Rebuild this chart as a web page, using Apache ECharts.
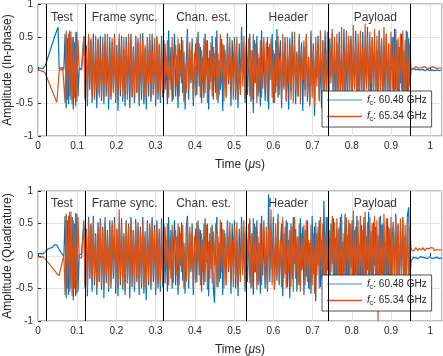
<!DOCTYPE html>
<html>
<head>
<meta charset="utf-8">
<script src="https://cdn.jsdelivr.net/npm/echarts@6/dist/echarts.min.js"></script>
<style>
html, body { margin: 0; padding: 0; background: #fff; }
#chart { width: 443px; height: 356px; }
</style>
</head>
<body>
<div id="chart"></div>
<script>
// sample spacing of the captured frame (us)
var dt = 0.003;

// in-phase, fc = 60.48 GHz
var iBlue = [
  0.02,-0.01,0.03,0.00,0.02,0.01,
  0.06,0.11,0.17,0.22,0.28,0.33,0.39,0.44,0.50,0.55,0.60,0.65,
  0.02,0.03,0.01,0.04,0.02,
  0.55,-0.58,0.48,-0.52,0.6,-0.45,0.5,-0.6,0.42,-0.55,0.58,-0.4,
  0.02,0.05,0.01,0.03,
  0.52,-0.45,0.38,-0.55,0.5,-0.3,0.45,-0.5,0.55,-0.42,0.3,-0.58,0.48,-0.35,0.52,-0.47,
  0.4,-0.52,0.55,-0.4,0.35,-0.6,0.5,-0.45,0.42,-0.3,0.55,-0.5,0.38,-0.62,0.47,-0.4,
  0.52,-0.48,0.3,-0.55,0.5,-0.38,0.45,-0.58,0.55,-0.42,0.36,-0.5,0.52,-0.35,0.48,-0.55,
  0.4,-0.45,0.56,-0.52,0.33,-0.6,0.5,-0.4,0.45,-0.48,0.55,-0.36,0.42,-0.55,0.5,-0.45,
  0.38,-0.5,0.52,-0.42,
  0.45,-0.3,0.12,-0.52,0.6,-0.15,0.35,-0.48,0.05,0.55,-0.4,0.22,-0.58,0.4,-0.1,
  0.5,-0.35,0.28,-0.6,0.15,0.62,-0.45,0.3,-0.2,0.48,-0.55,0.1,0.4,-0.38,0.58,
  -0.25,0.35,-0.5,0.2,-0.42,0.55,-0.08,0.45,-0.6,0.3,-0.18,0.52,-0.45,0.25,-0.35,
  0.6,-0.5,0.15,-0.3,0.47,-0.62,0.38,0.05,-0.4,0.56,-0.22,0.33,-0.55,0.45,-0.12,
  0.5,-0.45,0.2,-0.58,0.4,-0.3,0.65,-0.15,0.28,-0.5,0.42,-0.38,0.1,0.55,-0.48,
  0.3,-0.65,0.45,-0.2,0.52,-0.4,0.18,-0.55,0.6,-0.28,0.35,-0.47,0.08,0.5,-0.6,
  0.4,-0.15,0.55,-0.5,0.25,-0.35,0.62,-0.42,0.12,0.45,-0.58,0.3,-0.25,0.5,-0.45,
  0.2,-0.6,0.48,-0.32,0.58,-0.1,0.38,-0.52,0.28,-0.4,0.55,-0.2,0.42,-0.62,0.35,
  -0.3,0.5,-0.48,0.15,-0.55,0.6,-0.25,0.4,-0.7,0.3,-0.12,0.52,-0.45,0.22,-0.58,
  0.45,-0.38,0.6,-0.2,0.33,-0.55,0.48,-0.1,0.55,-0.45,0.25,-0.62,0.4,-0.3,0.58,
  -0.5,0.2,-0.35,0.62,-0.42,0.3,-0.58,0.47,-0.15,0.52,-0.48,0.38,-0.25,0.6,-0.4,
  0.15,-0.55,0.45,-0.3,0.58,-0.5,0.28,-0.2,0.65,-0.45,0.35,-0.6,0.5,-0.12,0.42,
  -0.52,0.3,-0.4,0.6,-0.25,0.48,-0.55,0.2,-0.35,0.55,-0.48,0.4,-0.6,0.25,0.5,
  -0.42,0.62,-0.3,0.45,-0.58,0.35,-0.2,0.55,-0.5,0.3,-0.45,0.6,-0.38,0.48,-0.25,
  0.01,-0.01,0.02,0.00,0.01,-0.02,0.01,0.02,0.00,-0.01,0.01,0.02,-0.01,0.00,
  0.01,0.02,-0.01,0.01,0.00,0.02,-0.01,0.01,0.00,0.01,-0.01,0.02,0.00
];

// in-phase, fc = 65.34 GHz
var iOrange = [
  0.00,0.02,-0.01,0.01,-0.02,0.00,
  -0.04,-0.09,-0.13,-0.18,-0.22,-0.27,-0.31,-0.36,-0.40,-0.45,-0.49,-0.52,
  -0.02,0.03,0.01,0.04,0.02,
  -0.5,0.6,-0.45,0.55,-0.4,0.58,-0.52,0.5,-0.42,0.57,-0.48,0.45,
  0.03,0.06,0.02,0.04,
  0.5,-0.42,0.3,-0.45,0.55,-0.2,0.48,-0.4,0.35,-0.45,0.52,-0.3,0.45,-0.42,0.2,-0.38,
  0.5,-0.45,0.4,-0.25,0.55,-0.42,0.3,-0.4,0.48,-0.35,0.52,-0.45,0.25,-0.4,0.55,-0.3,
  0.45,-0.42,0.5,-0.38,0.35,-0.45,0.55,-0.25,0.48,-0.4,0.3,-0.45,0.52,-0.35,0.42,-0.42,
  0.55,-0.3,0.45,-0.45,0.38,-0.4,0.5,-0.2,0.55,-0.42,0.3,-0.38,0.48,-0.45,0.52,-0.35,
  0.4,-0.42,0.5,-0.3,
  -0.35,0.4,-0.1,0.45,-0.42,0.2,-0.3,0.5,-0.45,0.15,0.38,-0.25,0.48,-0.4,0.3,
  -0.2,0.45,-0.48,0.1,-0.35,0.52,-0.3,0.42,-0.15,0.35,-0.45,0.25,-0.4,0.5,-0.05,
  0.4,-0.42,0.3,-0.2,0.48,-0.35,0.45,-0.5,0.18,-0.3,0.42,-0.4,0.35,-0.12,0.5,
  -0.45,0.25,-0.38,0.55,-0.2,0.4,-0.48,0.3,-0.42,0.45,-0.15,0.5,-0.35,0.2,-0.45,
  0.42,-0.3,0.5,-0.45,0.1,-0.38,0.45,-0.25,0.52,-0.42,0.35,-0.1,0.48,-0.4,0.3,
  -0.45,0.55,-0.2,0.4,-0.5,0.25,-0.35,0.45,-0.42,0.18,0.5,-0.3,0.42,-0.48,0.35,
  -0.15,0.48,-0.42,0.3,-0.5,0.45,-0.25,0.52,-0.38,0.2,-0.45,0.55,-0.3,0.4,-0.48,
  0.5,-0.2,0.35,-0.45,0.42,-0.5,0.58,-0.3,0.25,-0.4,0.48,-0.52,0.3,-0.15,0.45,
  -0.4,0.55,-0.35,0.2,-0.5,0.45,-0.42,0.3,-0.55,0.5,-0.25,0.4,-0.48,0.6,-0.3,
  0.45,-0.5,0.25,-0.4,0.58,-0.45,0.35,-0.2,0.62,-0.42,0.5,-0.3,0.55,-0.48,0.4,
  -0.35,0.65,-0.45,0.3,-0.5,0.6,-0.25,0.52,-0.4,0.45,-0.48,0.68,-0.3,0.42,-0.45,
  0.55,-0.38,0.6,-0.5,0.35,-0.42,0.7,-0.3,0.5,-0.45,0.58,-0.2,0.45,-0.5,0.62,
  -0.4,0.52,-0.48,0.6,-0.35,0.45,-0.5,0.65,-0.28,0.55,-0.45,0.4,-0.52,0.58,-0.3,
  0.5,-0.45,0.62,-0.38,0.48,-0.5,0.55,-0.3,0.6,-0.42,0.45,-0.5,0.58,-0.35,0.4,
  0.03,0.04,0.02,0.03,0.05,0.02,0.03,0.04,0.03,0.02,0.04,0.03,0.05,0.03,
  0.02,0.04,0.03,0.03,0.05,0.02,0.04,0.03,0.02,0.04,0.03,0.05,0.03
];

// quadrature, fc = 60.48 GHz
var qBlue = [
  0.03,0.01,0.04,0.02,0.03,0.05,
  0.06,0.08,0.1,0.09,0.12,0.14,0.13,0.16,0.17,0.15,0.17,0.14,
  0.1,0.07,0.04,0.02,0.0,
  0.62,-0.65,0.55,-0.6,0.68,-0.5,0.6,-0.68,0.5,-0.62,0.65,-0.55,
  0.02,-0.01,0.03,0.01,
  0.55,-0.5,0.42,-0.62,0.6,-0.35,0.5,-0.55,0.62,-0.45,0.35,-0.6,0.52,-0.4,0.58,-0.52,
  0.45,-0.65,0.6,-0.42,0.4,-0.55,0.55,-0.5,0.48,-0.35,0.6,-0.58,0.42,-0.62,0.5,-0.45,
  0.58,-0.52,0.35,-0.6,0.55,-0.42,0.5,-0.65,0.6,-0.48,0.4,-0.55,0.57,-0.4,0.52,-0.6,
  0.45,-0.5,0.6,-0.58,0.38,-0.68,0.55,-0.45,0.5,-0.52,0.6,-0.4,0.48,-0.6,0.55,-0.5,
  0.42,-0.55,0.58,-0.48,
  0.5,-0.42,0.25,-0.55,0.6,-0.2,0.4,-0.5,0.1,0.55,-0.45,0.3,-0.6,0.45,-0.15,
  0.52,-0.38,0.2,-0.58,0.45,0.62,-0.5,0.35,-0.25,0.5,-0.6,0.15,0.42,-0.4,0.55,
  -0.3,0.4,-0.55,0.25,-0.45,0.58,-0.1,0.5,-0.62,0.35,-0.2,0.48,-0.5,-0.72,0.3,
  0.6,-0.48,0.2,-0.35,0.52,-0.6,0.4,0.08,-0.45,0.55,-0.25,0.38,-0.58,0.5,-0.15,
  0.55,-0.5,0.25,-0.62,0.42,-0.3,0.6,-0.2,0.35,-0.55,0.45,-0.4,0.15,0.58,-0.5,
  0.35,-0.6,0.5,-0.25,0.55,-0.45,0.2,-0.58,0.62,-0.3,0.4,-0.5,0.1,-0.55,0.95,
  -0.4,0.45,-0.2,0.6,-0.52,0.3,-0.38,0.65,-0.45,0.15,0.5,-0.62,0.35,-0.28,0.55,
  -0.48,0.25,-0.65,0.5,-0.35,0.6,-0.12,0.42,-0.55,0.3,-0.45,0.58,-0.22,0.45,-0.6,
  0.4,-0.32,0.55,-0.5,0.2,-0.58,0.62,-0.28,0.45,-0.7,0.35,-0.15,0.55,-0.48,0.25,
  -0.6,0.85,-0.4,0.6,-0.22,0.38,-0.58,0.5,-0.12,0.58,-0.5,0.28,-0.62,0.42,-0.35,
  0.6,-0.52,0.22,-0.38,0.65,-0.45,0.32,-0.6,0.5,-0.18,0.55,-0.5,0.4,-0.28,0.62,
  -0.45,0.18,-0.58,0.48,-0.32,0.6,-0.52,0.3,-0.22,0.68,-0.48,0.38,-0.62,0.52,-0.15,
  0.45,-0.55,0.32,-0.42,0.62,-0.28,0.5,-0.58,0.22,-0.38,0.58,-0.5,0.42,-0.62,0.28,
  0.52,-0.45,0.65,-0.32,0.48,-0.6,0.38,-0.22,0.58,-0.52,0.3,-0.48,0.62,0.75,-0.4,
  -0.08,-0.06,-0.02,-0.05,-0.03,-0.02,-0.04,-0.03,-0.01,-0.04,-0.02,-0.05,-0.03,-0.02,
  -0.04,-0.03,-0.01,-0.03,-0.04,-0.02,-0.03,-0.05,-0.02,-0.03,-0.04,-0.02,-0.03
];

// quadrature, fc = 65.34 GHz
var qOrange = [
  -0.01,0.01,-0.02,0.00,-0.01,-0.02,
  -0.04,-0.06,-0.09,-0.11,-0.13,-0.16,-0.18,-0.2,-0.22,-0.25,-0.27,-0.29,
  -0.3,-0.22,-0.14,-0.06,0.0,
  -0.6,0.65,-0.5,0.62,-0.55,0.68,-0.62,0.55,-0.5,0.66,-0.58,0.6,
  -0.02,0.01,-0.03,0.0,
  0.5,-0.45,0.35,-0.5,0.55,-0.3,0.48,-0.42,0.52,-0.35,0.3,-0.5,0.45,-0.4,0.55,-0.45,
  0.4,-0.5,0.5,-0.3,0.35,-0.48,0.45,-0.42,0.55,-0.25,0.5,-0.45,0.4,-0.5,0.72,-0.35,
  0.48,-0.45,0.3,-0.5,0.52,-0.4,0.45,-0.48,0.55,-0.3,0.4,-0.45,0.5,-0.35,0.45,-0.5,
  0.38,-0.42,0.55,-0.48,0.3,-0.5,0.5,-0.38,0.45,-0.45,0.55,-0.3,0.4,-0.5,0.5,-0.42,
  0.35,-0.45,0.5,-0.4,
  -0.4,0.45,-0.15,0.5,-0.45,0.25,-0.35,0.48,-0.42,0.2,0.4,-0.3,0.5,-0.45,0.35,
  -0.25,0.48,-0.5,0.15,-0.4,0.55,-0.35,0.45,-0.2,0.38,-0.48,0.3,-0.42,0.52,-0.1,
  0.42,-0.45,0.35,-0.25,0.5,-0.4,0.48,-0.52,0.22,-0.35,0.45,-0.42,0.38,-0.15,0.5,
  -0.48,0.3,-0.4,0.55,-0.25,0.42,-0.5,0.35,-0.45,0.48,-0.2,0.52,-0.38,0.25,-0.48,
  0.45,-0.35,0.52,-0.48,0.15,-0.4,0.5,-0.3,0.55,-0.45,0.38,-0.15,0.5,-0.42,0.35,
  -0.48,0.58,-0.25,0.45,-0.52,0.3,-0.4,0.5,-0.45,0.2,0.55,-0.35,0.45,-0.5,0.4,
  -0.2,0.72,-0.45,0.35,-0.52,0.5,-0.3,0.55,-0.42,0.25,-0.48,0.6,-0.35,0.45,-0.5,
  0.52,-0.25,0.4,-0.48,0.45,-0.55,0.6,-0.35,0.3,-0.45,0.5,-0.55,0.35,-0.2,0.48,
  -0.45,0.55,-0.4,0.25,-0.52,0.48,-0.45,0.35,-0.58,0.52,-0.3,0.45,-0.5,0.6,-0.35,
  0.5,-0.52,0.3,-0.45,0.6,-0.48,0.4,-0.25,0.62,-0.45,0.52,-0.35,0.58,-0.5,0.45,
  -0.4,0.65,-0.48,0.35,-0.52,0.6,-0.3,0.55,-0.45,0.5,-0.5,0.7,-0.35,0.45,-0.48,
  0.55,-0.42,0.62,-0.52,0.4,-0.45,0.68,-0.35,0.52,-0.48,0.6,-0.25,0.5,-0.52,0.62,
  -0.45,0.55,-1.0,0.6,-0.4,0.48,-0.52,0.65,-0.32,0.58,-0.48,0.45,-0.55,0.6,-0.35,
  0.52,-0.48,0.62,-0.42,0.5,-0.52,0.58,-0.35,0.6,-0.45,0.48,-0.52,0.6,-0.4,0.45,
  0.12,0.08,0.11,0.09,0.13,0.1,0.08,0.12,0.1,0.09,0.13,0.11,0.08,0.12,
  0.1,0.11,0.09,0.13,0.1,0.12,0.08,0.11,0.1,0.13,0.09,0.11,0.1
];

var bounds = [0.016, 0.115, 0.322, 0.532, 0.741, 0.949];
var sectionNames = ['Test', 'Frame sync.', 'Chan. est.', 'Header', 'Payload'];
var sectionMid = [0.061, 0.221, 0.422, 0.638, 0.86];
var legendNames = ['60.48 GHz', '65.34 GHz'];
var yNames = ['Amplitude (In-phase)', 'Amplitude (Quadrature)'];

(function () {
    var myChart = echarts.init(document.getElementById('chart'));
    var font = 'Liberation Sans, Arial, Helvetica, sans-serif';
    var ink = '#262626';
    var blue = '#0072BD', orange = '#D95319';

    function pairs(arr) {
        return arr.map(function (v, i) { return [i * dt, v]; });
    }

    var grids = [
        { left: 38, top: 4, right: 1, height: 132 },
        { left: 38, top: 191, right: 1, height: 130 }
    ];
    var signals = [[iBlue, iOrange], [qBlue, qOrange]];
    var legendTop = [91, 275];

    var xAxis = [], yAxis = [], series = [], legend = [];
    for (var k = 0; k < 2; k++) {
        grids[k].show = true;
        grids[k].borderColor = '#7d7d7d';
        grids[k].borderWidth = 1;
        grids[k].outerBoundsMode = 'none';
        grids[k].containLabel = false;
        xAxis.push({
            gridIndex: k, type: 'value', min: 0, max: 1.03, interval: 0.1,
            axisLine: { show: false },
            axisTick: { inside: true, length: 3, lineStyle: { color: ink } },
            axisLabel: { showMaxLabel: false, margin: 5, fontSize: 10, color: ink, fontFamily: font },
            splitLine: { show: true, lineStyle: { color: '#e3e3e3' } },
            name: '{n|Time (}{m|μ}{n|s)}', nameLocation: 'middle', nameGap: 23,
            nameMoveOverlap: false,
            nameTextStyle: {
                rich: {
                    n: { fontSize: 12, color: ink, fontFamily: font },
                    m: { fontSize: 12, color: ink, fontFamily: font, fontStyle: 'italic' }
                }
            }
        });
        yAxis.push({
            gridIndex: k, type: 'value', min: -1, max: 1, interval: 0.5,
            axisLine: { show: false },
            axisTick: { inside: true, length: 3, lineStyle: { color: ink } },
            axisLabel: { margin: 5, fontSize: 10, color: ink, fontFamily: font },
            splitLine: { show: true, lineStyle: { color: '#e3e3e3' } },
            name: yNames[k], nameLocation: 'middle', nameGap: 24,
            nameMoveOverlap: false,
            nameTextStyle: { fontSize: 12, color: ink, fontFamily: font }
        });
        series.push({
            name: legendNames[0], type: 'line', xAxisIndex: k, yAxisIndex: k,
            data: pairs(signals[k][0]), symbol: 'none', z: 2,
            lineStyle: { width: 1.2, color: blue }, itemStyle: { color: blue }
        });
        series.push({
            name: legendNames[1], type: 'line', xAxisIndex: k, yAxisIndex: k,
            data: pairs(signals[k][1]), symbol: 'none', z: 3,
            lineStyle: { width: 1.2, color: orange }, itemStyle: { color: orange }
        });
        series.push({
            type: 'scatter', xAxisIndex: k, yAxisIndex: k, z: 5, silent: true,
            symbolSize: 1, itemStyle: { color: 'rgba(0,0,0,0)' },
            data: sectionNames.map(function (s, i) { return [sectionMid[i], 0.8, s]; }),
            label: {
                show: true, position: 'inside', fontSize: 12, color: '#000', fontFamily: font,
                formatter: function (p) { return p.data[2]; }
            },
            markLine: {
                silent: true, symbol: ['none', 'none'], animation: false,
                label: { show: false },
                lineStyle: { color: '#000', width: 1, type: 'solid' },
                data: bounds.map(function (b) { return { xAxis: b }; })
            }
        });
        legend.push({
            data: [
                { name: legendNames[0], itemStyle: { color: '#7fb7e0' } },
                { name: legendNames[1] }
            ],
            orient: 'vertical', left: 322, top: legendTop[k],
            icon: 'rect', itemWidth: 35, itemHeight: 1.5, itemGap: 5,
            padding: [4, 5, 4, 5],
            backgroundColor: '#fff', borderColor: ink, borderWidth: 0.8, borderRadius: 0,
            selectedMode: false,
            formatter: function (name) { return '{f|f}{c|c}{t|: ' + name + '}'; },
            textStyle: {
                rich: {
                    f: { fontSize: 10, fontStyle: 'italic', color: ink, fontFamily: font },
                    c: { fontSize: 7, color: ink, fontFamily: font, verticalAlign: 'bottom', padding: [6, 0, 0, 0] },
                    t: { fontSize: 10, color: ink, fontFamily: font }
                }
            }
        });
    }

    var option = {
        animation: false,
        backgroundColor: '#fff',
        grid: grids,
        xAxis: xAxis,
        yAxis: yAxis,
        legend: legend,
        series: series
    };
    myChart.setOption(option);
    window.addEventListener("resize", function () {
        myChart.resize();
    });
})();
</script>
</body>
</html>
